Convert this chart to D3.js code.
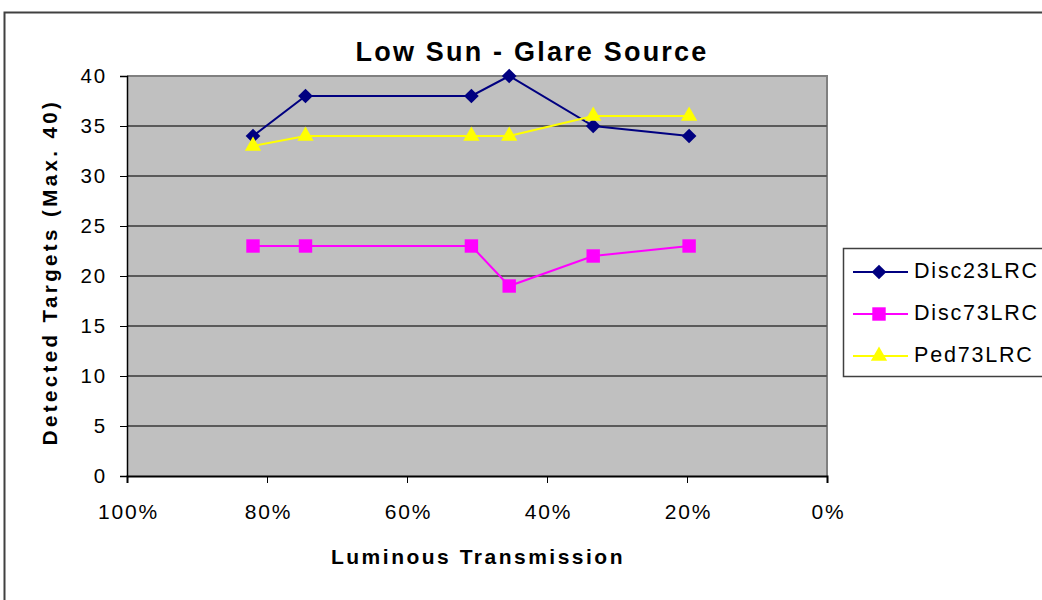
<!DOCTYPE html>
<html><head><meta charset="utf-8">
<script src="https://cdn.jsdelivr.net/npm/d3@7"></script>
<style>body{margin:0;background:#fff;}svg{display:block;font-family:"Liberation Sans",Arial,sans-serif;}</style>
</head><body><svg id="c" width="1042" height="600"></svg>
<script>
const transmission = [0.82, 0.745, 0.508, 0.454, 0.334, 0.197];
const disc23 = [34, 38, 38, 40, 35, 34];
const disc73 = [23, 23, 23, 19, 22, 23];
const ped73 = [33, 34, 34, 34, 36, 36];
const seriesNames = ["Disc23LRC", "Disc73LRC", "Ped73LRC"];
const xTicks = [1, 0.8, 0.6, 0.4, 0.2, 0];
const yTicks = [0, 5, 10, 15, 20, 25, 30, 35, 40];

const svg = d3.select("#c");
const L = 127, R = 827, T = 76, B = 476;
const x = d3.scaleLinear().domain([1, 0]).range([L, R]);
const y = d3.scaleLinear().domain([0, 40]).range([B, T]);
const FONT = "Liberation Sans, Arial, sans-serif";

// outer frame
svg.append("rect").attr("x", 4.5).attr("y", 12.5).attr("width", 1100).attr("height", 700)
  .attr("fill", "none").attr("stroke", "#404040").attr("stroke-width", 2);

// plot bg
svg.append("rect").attr("x", L).attr("y", T).attr("width", R - L).attr("height", B - T).attr("fill", "#c0c0c0");
svg.append("path").attr("d", `M${L},${T}H${R}V${B}`).attr("fill", "none").attr("stroke", "#808080").attr("stroke-width", 2);
// grid
svg.append("g").selectAll("line").data(yTicks.filter(d => d > 0 && d < 40)).join("line")
  .attr("x1", L).attr("x2", R).attr("y1", d => y(d)).attr("y2", d => y(d))
  .attr("stroke", "#5a5a5a").attr("stroke-width", 2);

// axes
const yAxis = d3.axisLeft(y).tickValues(yTicks).tickSize(7).tickPadding(13).tickFormat(d3.format("d"));
const gy = svg.append("g").attr("transform", `translate(${L},0)`).call(yAxis);
gy.select(".domain").attr("stroke", "#000").attr("stroke-width", 1.5);
gy.selectAll(".tick line").attr("stroke", "#000");
gy.selectAll("text").attr("font-size", 20.5).attr("letter-spacing", 1.8).attr("fill", "#000").attr("font-family", FONT);

const xAxis = d3.axisBottom(x).tickValues(xTicks).tickSize(7).tickPadding(21).tickFormat(d3.format(".0%"));
const gx = svg.append("g").attr("transform", `translate(0,${B})`).call(xAxis);
gx.select(".domain").attr("stroke", "#000").attr("stroke-width", 2);
gx.selectAll(".tick line").attr("stroke", "#000");
gx.selectAll("text").attr("font-size", 21).attr("letter-spacing", 1.8).attr("dx", 1).attr("fill", "#000").attr("font-family", FONT);

// series
const data = [disc23, disc73, ped73];
const colors = ["#000080", "#ff00ff", "#ffff00"];
const symbols = [d3.symbolSquare, d3.symbolSquare, d3.symbolTriangle];
const sizes = [108, 180, 115];
const rot = [45, 0, 0];
const line = d3.line().x((d, i) => x(transmission[i])).y(d => y(d));
data.forEach((vals, k) => {
  svg.append("path").datum(vals).attr("d", line).attr("fill", "none").attr("stroke", colors[k]).attr("stroke-width", 2);
  svg.append("g").selectAll("path").data(vals).join("path")
    .attr("transform", (d, i) => `translate(${x(transmission[i])},${y(d)}) rotate(${rot[k]})`)
    .attr("d", d3.symbol().type(symbols[k]).size(sizes[k])).attr("fill", colors[k]);
});

// title
svg.append("text").attr("x", 532).attr("y", 61).attr("text-anchor", "middle")
  .attr("font-size", 27).attr("font-weight", "bold").attr("letter-spacing", 2.2).text("Low Sun - Glare Source");
// axis titles
svg.append("text").attr("x", 478).attr("y", 564).attr("text-anchor", "middle")
  .attr("font-size", 21).attr("font-weight", "bold").attr("letter-spacing", 2.5).text("Luminous Transmission");
svg.append("text").attr("transform", "translate(57,272) rotate(-90)").attr("text-anchor", "middle")
  .attr("font-size", 20.5).attr("font-weight", "bold").attr("letter-spacing", 3.4).text("Detected Targets (Max. 40)");

// legend
const lg = svg.append("g");
lg.append("rect").attr("x", 843.5).attr("y", 248.5).attr("width", 220).attr("height", 128)
  .attr("fill", "#fff").attr("stroke", "#404040").attr("stroke-width", 1.5);
seriesNames.forEach((name, k) => {
  const yy = 272 + k * 42;
  lg.append("line").attr("x1", 853).attr("x2", 908).attr("y1", yy).attr("y2", yy).attr("stroke", colors[k]).attr("stroke-width", 2);
  lg.append("path").attr("transform", `translate(879,${yy}) rotate(${rot[k]})`)
    .attr("d", d3.symbol().type(symbols[k]).size(sizes[k])).attr("fill", colors[k]);
  lg.append("text").attr("x", 914).attr("y", yy + 6).attr("font-size", 21.5).attr("letter-spacing", 1.8).text(name);
});
</script></body></html>
